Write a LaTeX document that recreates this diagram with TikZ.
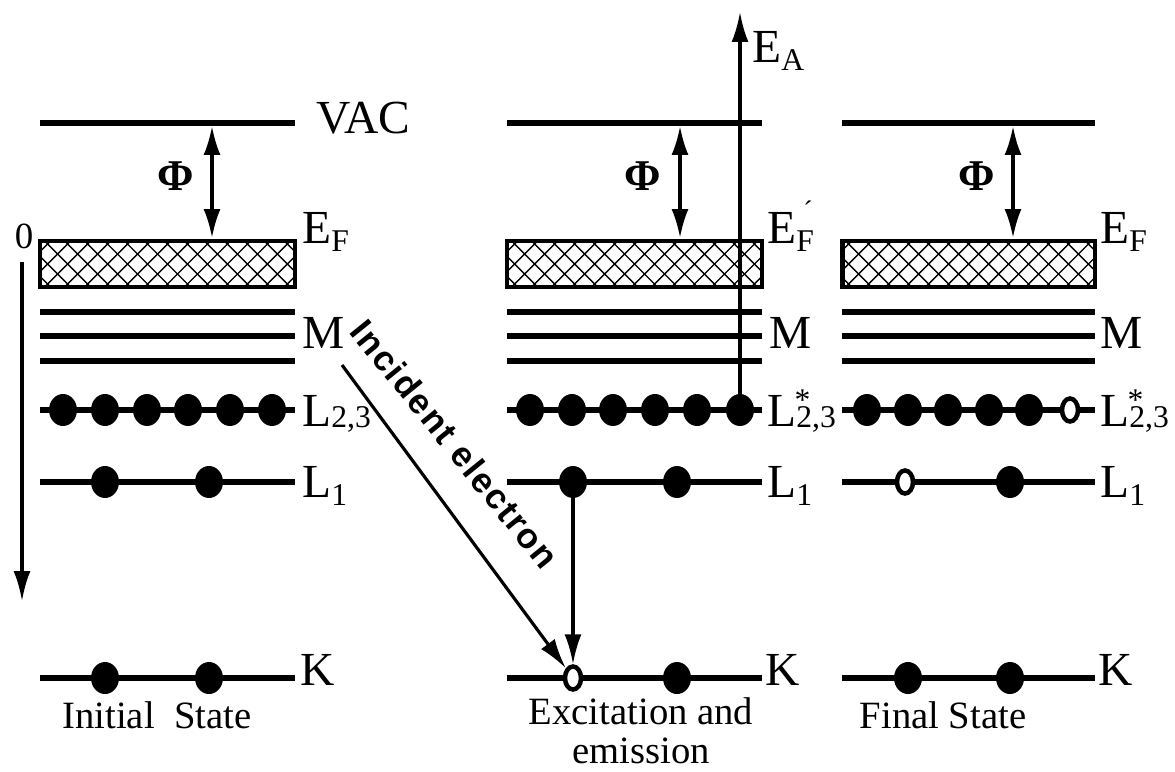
\documentclass[tikz,border=0pt]{standalone}
\usepackage{fontspec}
\setmainfont{Liberation Serif}
\newfontfamily\incfont{Liberation Sans}[LetterSpace=5]
\usetikzlibrary{arrows.meta,shapes.geometric}
\newcommand{\lvsb}[1]{\raisebox{-5pt}{\fontsize{18}{18}\selectfont #1}}
\newcommand{\lvsbz}[1]{\raisebox{-1pt}{\fontsize{18}{18}\selectfont #1}}
\newcommand{\lvstar}{\kern-1pt\rlap{\raisebox{9pt}{\fontsize{18}{18}\selectfont *}}\kern1pt}
\begin{document}
\begin{tikzpicture}[x=0.02cm,y=-0.02cm,
  level/.style={line width=3.4pt},
  dot/.style={ellipse,fill=black,minimum width=0.56cm,minimum height=0.64cm,inner sep=0pt},
  hole/.style={ellipse,draw=black,fill=white,line width=0.09cm,minimum width=0.32cm,minimum height=0.46cm,inner sep=0pt},
  fermibox/.style={draw=black,line width=2.8pt,minimum width=5.1cm,minimum height=0.92cm,inner sep=0pt,
    path picture={\foreach \k in {-16,...,16}{
      \draw[line width=0.8pt] ([xshift=\k*0.4cm]path picture bounding box.center) +(-1cm,-1cm) -- +(1cm,1cm);
      \draw[line width=0.8pt] ([xshift=\k*0.4cm]path picture bounding box.center) +(-1cm,1cm) -- +(1cm,-1cm);}}},
  lab/.style={anchor=base west,inner sep=0pt,font=\fontsize{27}{30}\selectfont},
  phi/.style={inner sep=0pt,font=\fontsize{25}{28}\selectfont\bfseries},
  caption/.style={anchor=base,inner sep=0pt,font=\fontsize{22}{26}\selectfont},
  arr/.style={line width=1.8pt,-{Latex[length=0.6cm,width=0.34cm]}},
  dbl/.style={line width=1.8pt,{Latex[length=0.58cm,width=0.34cm]}-{Latex[length=0.58cm,width=0.34cm]}}
]
\useasboundingbox (0,0) rectangle (1175,771);

% ---------- Panel 1: initial state ----------
\draw[level] (40,123) -- (295,123);
\node[fermibox] (b1) at (167.5,264) {};
\foreach \y in {312,336,361} \draw[level] (40,\y) -- (295,\y);
\draw[level] (40,410) -- (295,410);
\draw[level] (40,482) -- (295,482);
\draw[level] (40,678) -- (295,678);
\foreach \x [count=\i] in {63,105,147,188,230,272} \node[dot] (d1L\i) at (\x,410) {};
\node[dot] (d1La) at (105,482) {};
\node[dot] (d1Lb) at (209,482) {};
\node[dot] (d1Ka) at (105,678) {};
\node[dot] (d1Kb) at (209,678) {};
\coordinate (p1t) at (212,126);
\coordinate (p1b) at (212,238);
\draw[dbl] (p1t) -- (p1b);
\node[phi] (phi1) at (176,176) {Φ};
\node[lab] (vac) at (316,133) {VAC};
\node[lab] (ef1) at (302,243) {E\lvsb{F}};
\node[lab] (m1) at (302,348) {M};
\node[lab] (l231) at (302,426) {L\lvsbz{2,3}};
\node[lab] (l11) at (302,497) {L\lvsb{1}};
\node[lab] (k1) at (300,685) {K};
\node[inner sep=0pt,font=\fontsize{21}{24}\selectfont] (zero) at (24,236) {0};
\coordinate (ax0) at (22,262);
\coordinate (ax1) at (22,601);
\draw[arr] (ax0) -- (ax1);
\node[caption] (cap1) at (157,728) {Initial\ \ State};

% ---------- Panel 2: excitation and emission ----------
\draw[level] (507,123) -- (762,123);
\node[fermibox] (b2) at (634.5,264) {};
\foreach \y in {312,336,361} \draw[level] (507,\y) -- (762,\y);
\draw[level] (507,410) -- (762,410);
\draw[level] (507,482) -- (762,482);
\draw[level] (507,678) -- (762,678);
\foreach \x [count=\i] in {530,572,613,655,697,740} \node[dot] (d2L\i) at (\x,410) {};
\node[dot] (d2La) at (573,482) {};
\node[dot] (d2Lb) at (677,482) {};
\node[hole] (h2K) at (573,678) {};
\node[dot] (d2Kb) at (677,678) {};
\coordinate (p2t) at (680,126);
\coordinate (p2b) at (680,238);
\draw[dbl] (p2t) -- (p2b);
\node[phi] (phi2) at (643,176) {Φ};
\coordinate (ea) at (740,12);
\draw[arr] (d2L6.center) -- (ea);
\node[lab] (eal) at (752,62) {E\lvsb{A}};
\node[lab] (ef2) at (767,243) {E\rlap{\raisebox{13pt}{\fontsize{16}{16}\selectfont\kern4pt ´}}\lvsb{F}};
\node[lab] (m2) at (769,348) {M};
\node[lab] (l232) at (767,426) {L\lvstar\lvsbz{2,3}};
\node[lab] (l12) at (767,497) {L\lvsb{1}};
\node[lab] (k2) at (765,685) {K};
\draw[arr] (d2La) -- (h2K);
\coordinate (inc) at (342,365);
\draw[arr] (inc) -- (h2K);
\node[inner sep=0pt,rotate=-51,font=\fontsize{20}{22}\incfont\bfseries] (inctxt) at (455,444) {Incident electron};
\node[caption] (cap2a) at (641,724) {Excitation and};
\node[caption] (cap2b) at (641,763) {emission};

% ---------- Panel 3: final state ----------
\draw[level] (842,123) -- (1095,123);
\node[fermibox,minimum width=5.06cm] (b3) at (968.5,264) {};
\foreach \y in {312,336,361} \draw[level] (842,\y) -- (1095,\y);
\draw[level] (842,410) -- (1095,410);
\draw[level] (842,482) -- (1095,482);
\draw[level] (842,678) -- (1095,678);
\foreach \x [count=\i] in {867,908,948,989,1029} \node[dot] (d3L\i) at (\x,410) {};
\node[hole] (h3L) at (1070,410) {};
\node[hole] (h3La) at (905,482) {};
\node[dot] (d3Lb) at (1010,482) {};
\node[dot] (d3Ka) at (908,678) {};
\node[dot] (d3Kb) at (1010,678) {};
\coordinate (p3t) at (1013,126);
\coordinate (p3b) at (1013,238);
\draw[dbl] (p3t) -- (p3b);
\node[phi] (phi3) at (977,176) {Φ};
\node[lab] (ef3) at (1100,243) {E\lvsb{F}};
\node[lab] (m3) at (1100,348) {M};
\node[lab] (l233) at (1100,426) {L\lvstar\lvsbz{2,3}};
\node[lab] (l13) at (1100,497) {L\lvsb{1}};
\node[lab] (k3) at (1098,685) {K};
\node[caption] (cap3) at (943,728) {Final State};
\end{tikzpicture}
\end{document}
